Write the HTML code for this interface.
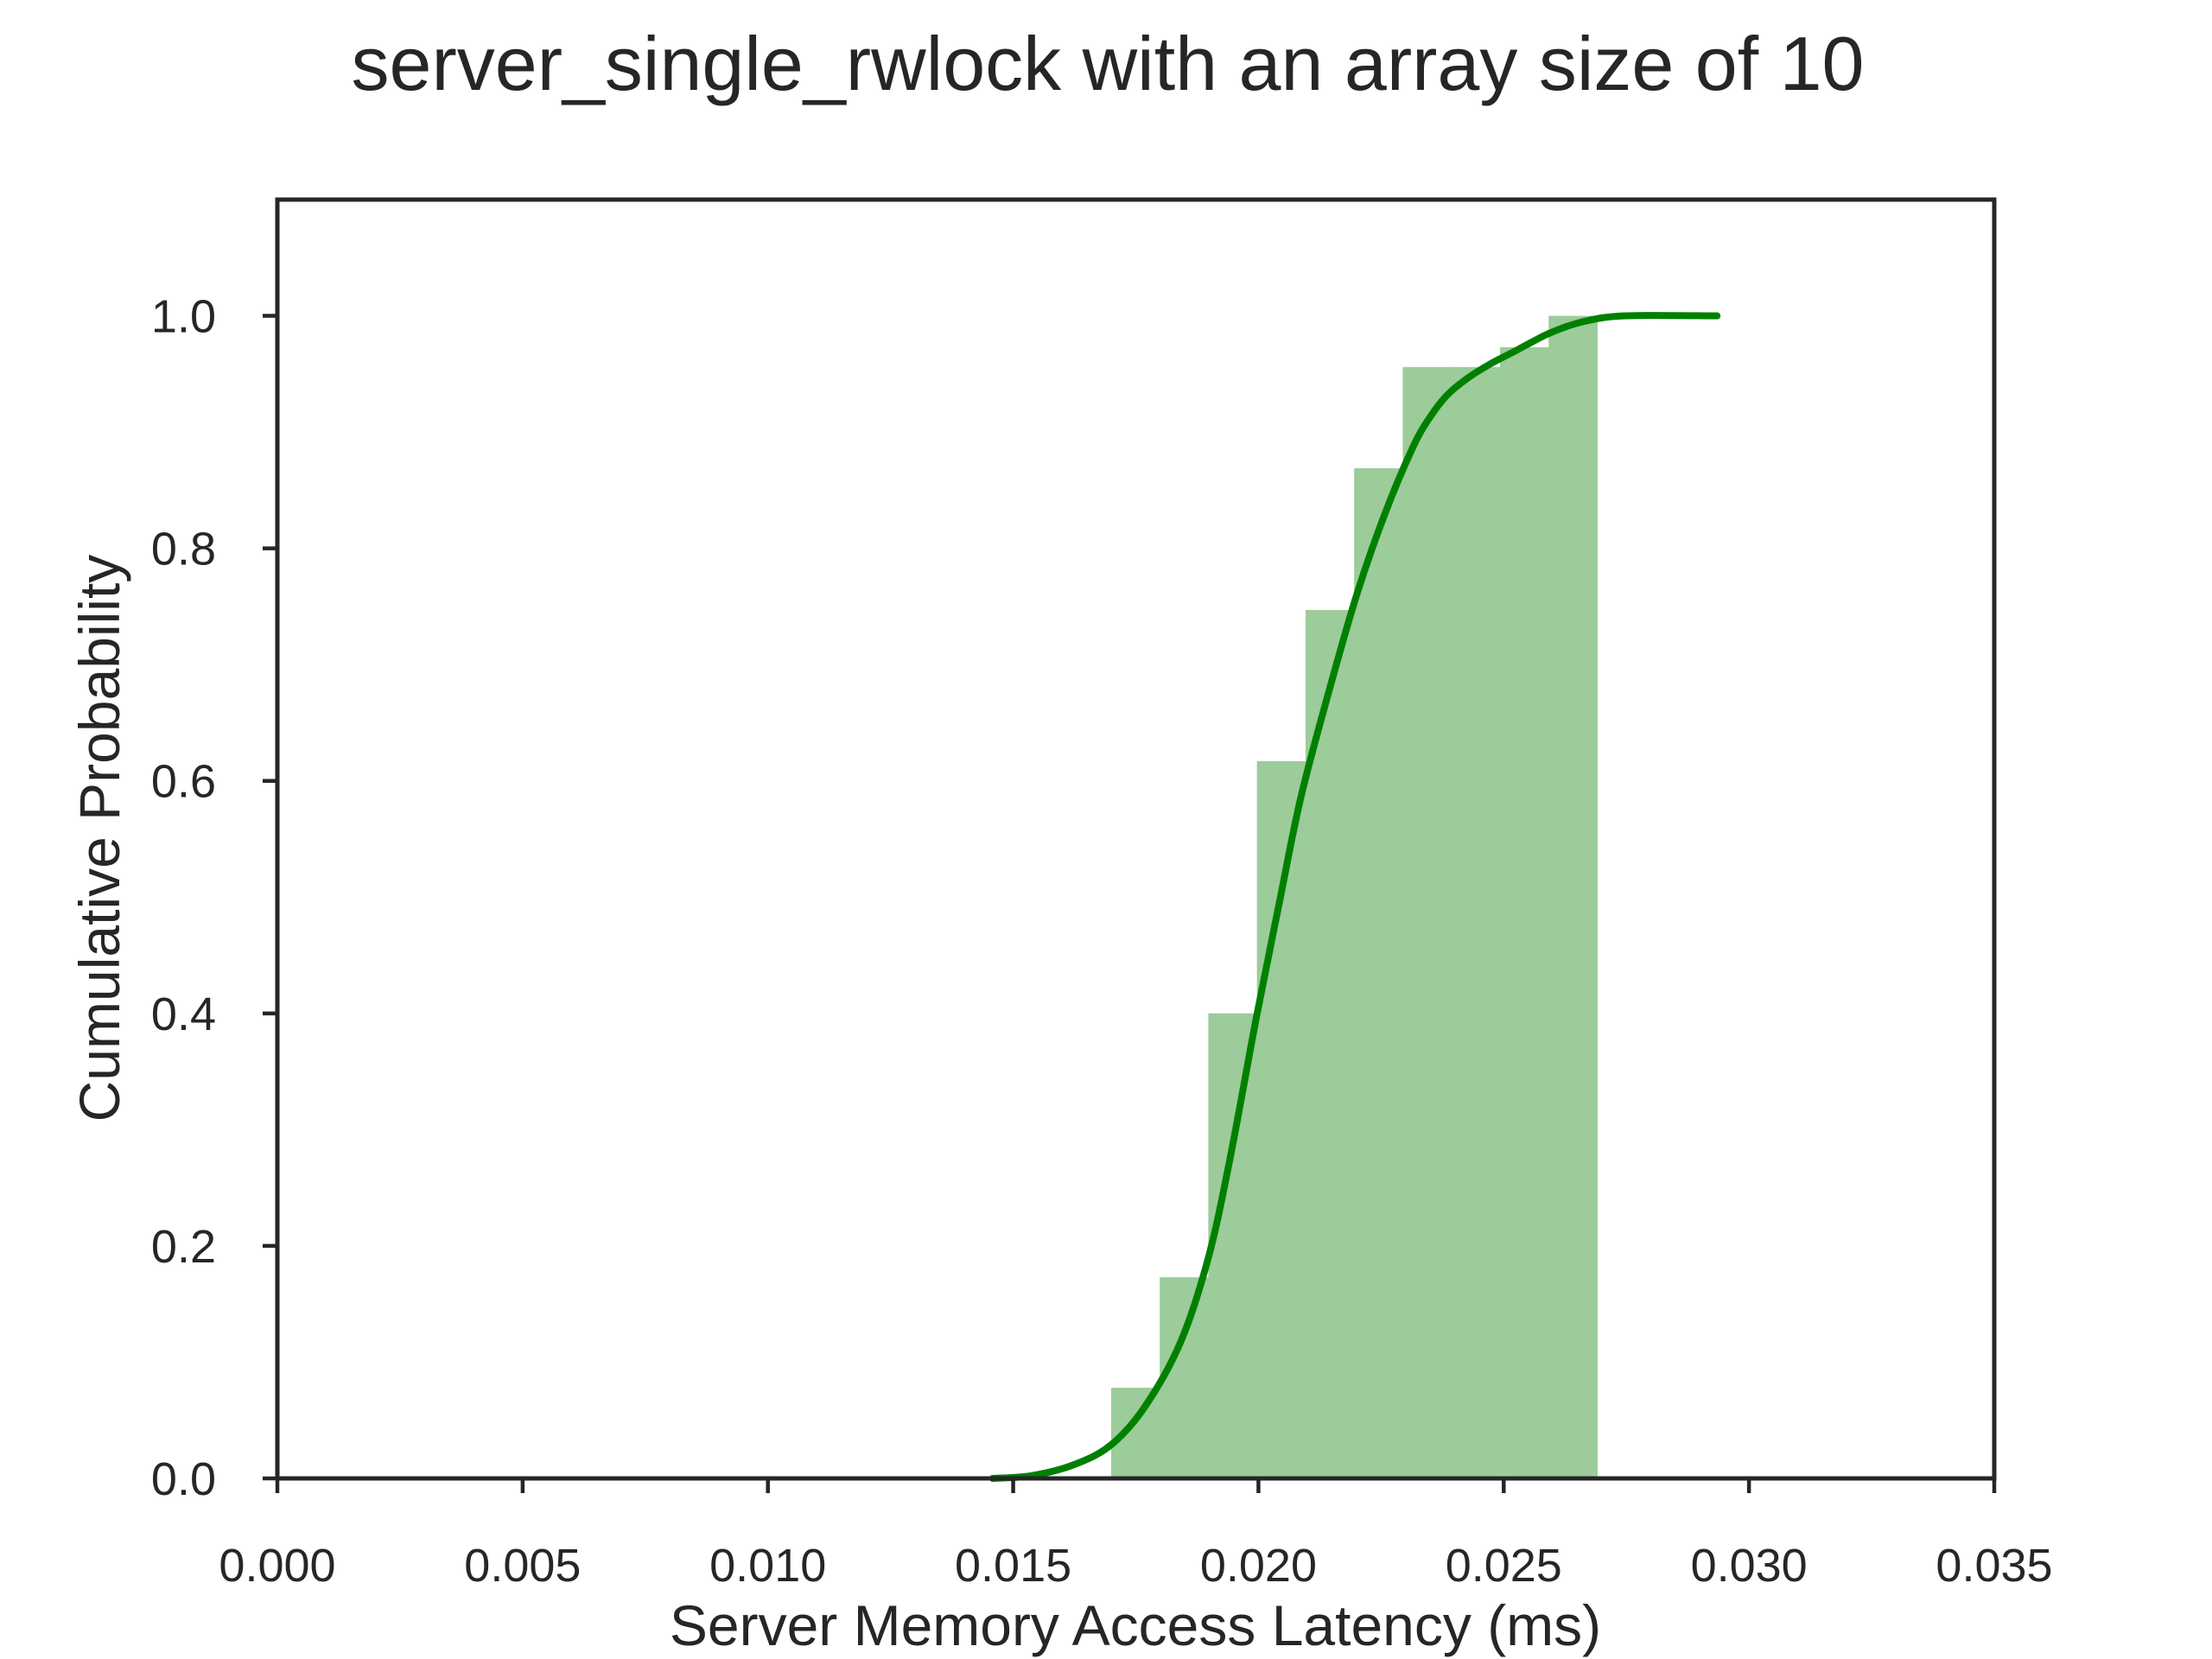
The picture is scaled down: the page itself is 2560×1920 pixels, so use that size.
<!DOCTYPE html>
<html><head><meta charset="utf-8"><style>
html,body{margin:0;padding:0;background:#fff;}
svg{display:block;font-family:"Liberation Sans","DejaVu Sans",sans-serif;}
</style></head><body>
<svg id="chart" width="2560" height="1920" viewBox="0 0 2560 1920" xmlns="http://www.w3.org/2000/svg">
<rect width="2560" height="1920" fill="#fff"/>
<text x="1282" y="104" font-size="88" text-anchor="middle" fill="#262626">server_single_rwlock with an array size of 10</text>
<g id="bars"></g>
<g id="curve"></g>
<g id="axes"></g>
<text x="1314" y="1904" font-size="66" text-anchor="middle" fill="#262626">Server Memory Access Latency (ms)</text>
<text x="0" y="0" font-size="66" text-anchor="middle" fill="#262626" transform="translate(138,970) rotate(-90)">Cumulative Probability</text>
</svg>
<script>
const binEdges=[0.016996,0.017987,0.018978,0.019969,0.020960,0.021951,0.022942,0.023933,0.024924,0.025915,0.026906];
const binHeights=[0.078,0.173,0.400,0.617,0.747,0.869,0.956,0.956,0.973,1.0];
const curveX=[0.01458,0.01538,0.01625,0.0170,0.01769,0.01841,0.01898,0.01942,0.01996,0.02042,0.02086,0.02143,0.02201,0.02258,0.02316,0.02350,0.02385,0.02425,0.02470,0.02520,0.02593,0.02662,0.02748,0.02935];
const curveY=[0,0.0024,0.012,0.029,0.062,0.117,0.190,0.275,0.397,0.494,0.585,0.676,0.761,0.830,0.888,0.913,0.932,0.946,0.958,0.969,0.985,0.995,1.0,1.0];
const xTicks=[0,0.005,0.010,0.015,0.020,0.025,0.030,0.035];
const xTickLabels=["0.000","0.005","0.010","0.015","0.020","0.025","0.030","0.035"];
const yTicks=[0,0.2,0.4,0.6,0.8,1.0];
const yTickLabels=["0.0","0.2","0.4","0.6","0.8","1.0"];
const L=321,R=2308,T=231,B=1711,XMAX=0.035,YMAX=1.1;
const X=v=>L+(v/XMAX)*(R-L);
const Y=v=>B-(v/YMAX)*(B-T);
const NS="http://www.w3.org/2000/svg";
function mk(tag,attrs,parent){const e=document.createElementNS(NS,tag);for(const k in attrs)e.setAttribute(k,attrs[k]);parent.appendChild(e);return e;}
const bars=document.getElementById('bars');
binHeights.forEach((h,i)=>{
 const r=mk('rect',{x:X(binEdges[i]),y:Y(h),width:X(binEdges[i+1])-X(binEdges[i])+0.5,height:B-Y(h),fill:'#9ccc99'},bars);
 
 
});
const cg=document.getElementById('curve');
const pts=curveX.map((x,i)=>[X(x),Y(curveY[i])]);
let d='M'+pts[0][0]+','+pts[0][1];
for(let i=0;i<pts.length-1;i++){
 const p0=pts[Math.max(0,i-1)],p1=pts[i],p2=pts[i+1],p3=pts[Math.min(pts.length-1,i+2)];
 const c1=[p1[0]+(p2[0]-p0[0])/6,p1[1]+(p2[1]-p0[1])/6];
 const c2=[p2[0]-(p3[0]-p1[0])/6,p2[1]-(p3[1]-p1[1])/6];
 d+=' C'+c1[0]+','+c1[1]+' '+c2[0]+','+c2[1]+' '+p2[0]+','+p2[1];
}
const path=mk('path',{d:d,fill:'none',stroke:'#008000','stroke-width':8,'stroke-linecap':'round','stroke-linejoin':'round'},cg);


const ax=document.getElementById('axes');
const frame=mk('rect',{x:L,y:T,width:R-L,height:B-T,fill:'none',stroke:'#262626','stroke-width':5},ax);


xTicks.forEach((v,i)=>{
 const t=mk('line',{x1:X(v),x2:X(v),y1:B,y2:B+17,stroke:'#262626','stroke-width':4.5},ax);
 
 
 const tx=mk('text',{x:X(v),y:1830,'font-size':54,'text-anchor':'middle',fill:'#262626'},ax);
 tx.textContent=xTickLabels[i];
 
 
});
yTicks.forEach((v,i)=>{
 const t=mk('line',{x1:L-17,x2:L,y1:Y(v),y2:Y(v),stroke:'#262626','stroke-width':4.5},ax);
 
 
 const tx=mk('text',{x:250,y:Y(v)+19,'font-size':54,'text-anchor':'end',fill:'#262626'},ax);
 tx.textContent=yTickLabels[i];
 
 
});
</script>
</body></html>
